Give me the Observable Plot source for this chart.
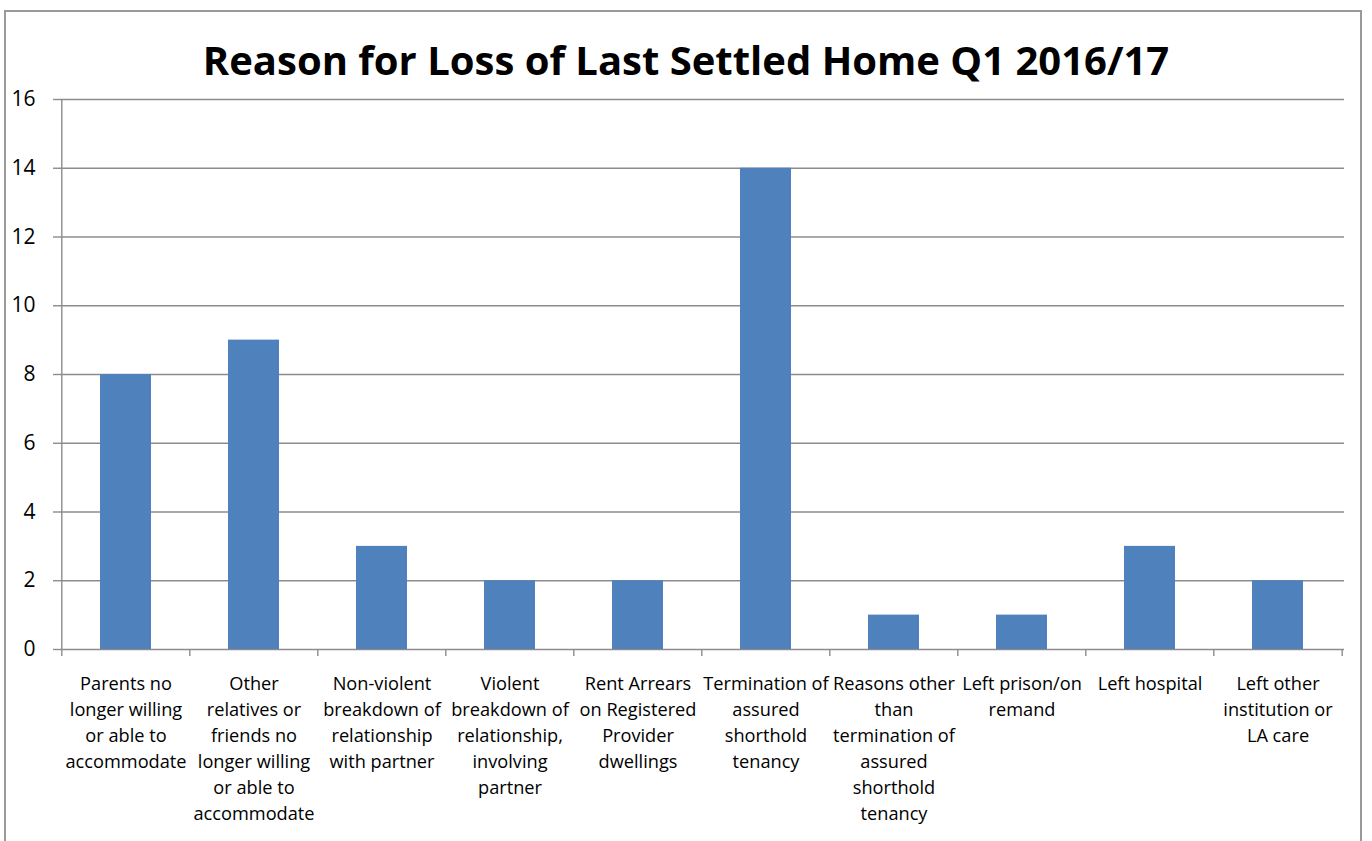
<!DOCTYPE html>
<html>
<head>
<meta charset="utf-8">
<script src="https://cdn.jsdelivr.net/npm/d3@7"></script>
<script src="https://cdn.jsdelivr.net/npm/@observablehq/plot@0.6"></script>
<style>
  html, body { margin: 0; padding: 0; background: #fff; }
  #wrap { position: relative; width: 1372px; height: 841px; overflow: hidden; background: #fff; }
  #frame { position: absolute; left: 4px; top: 10px; width: 1358px; height: 900px; border: 2px solid #9a9a9a; box-sizing: border-box; }
  #title { position: relative; height: 75px; box-sizing: border-box; padding-top: 38px; text-align: center; font-family: "Open Sans", sans-serif; font-weight: bold; font-size: 40px; line-height: 44px; color: #000; white-space: nowrap; }
  #chart { position: relative; }
  #chart svg { display: block; }
</style>
</head>
<body>
<div id="wrap">
  <div id="frame"></div>
  <div id="title">Reason for Loss of Last Settled Home Q1 2016/17</div>
  <div id="chart"></div>
</div>
<script>
const categories = [
  "Parents no longer willing or able to accommodate",
  "Other relatives or friends no longer willing or able to accommodate",
  "Non-violent breakdown of relationship with partner",
  "Violent breakdown of relationship, involving partner",
  "Rent Arrears on Registered Provider dwellings",
  "Termination of assured shorthold tenancy",
  "Reasons other than termination of assured shorthold tenancy",
  "Left prison/on remand",
  "Left hospital",
  "Left other institution or LA care"
];
const tickLabels = [
  "Parents no\nlonger willing\nor able to\naccommodate",
  "Other\nrelatives or\nfriends no\nlonger willing\nor able to\naccommodate",
  "Non-violent\nbreakdown of\nrelationship\nwith partner",
  "Violent\nbreakdown of\nrelationship,\ninvolving\npartner",
  "Rent Arrears\non Registered\nProvider\ndwellings",
  "Termination of\nassured\nshorthold\ntenancy",
  "Reasons other\nthan\ntermination of\nassured\nshorthold\ntenancy",
  "Left prison/on\nremand",
  "Left hospital",
  "Left other\ninstitution or\nLA care"
];
const values = [8, 9, 3, 2, 2, 14, 1, 1, 3, 2];
const yTicks = [0, 2, 4, 6, 8, 10, 12, 14, 16];

const data = categories.map((c, i) => ({category: c, value: values[i], label: tickLabels[i]}));

const W = 1372, H = 766;
const mL = 60, mR = 28, mT = 24, mB = 192;
const step = (W - mL - mR) / categories.length;
const gridColor = "#8c8c8c";
const font = "Open Sans, sans-serif";
const labelSize = 18.2;

const chart = Plot.plot({
  width: W,
  height: H,
  marginLeft: mL,
  marginRight: mR,
  marginTop: mT,
  marginBottom: mB,
  style: {fontFamily: font, color: "#000", background: "transparent"},
  x: {domain: categories, paddingInner: 0.6, paddingOuter: 0.3, axis: null},
  y: {domain: [0, 16], axis: null},
  marks: [
    Plot.ruleY(yTicks, {stroke: gridColor, strokeWidth: 1.4}),
    Plot.axisY({ticks: yTicks, tickSize: 7, tickPadding: 18, fontSize: 21, stroke: gridColor, strokeWidth: 1.4, label: null, tickFormat: d => String(d)}),
    Plot.ruleX(categories, {x: d => d, dx: -step / 2, y1: 0, y2: 16, stroke: gridColor, strokeWidth: 1.4, filter: (d, i) => i === 0}),
    Plot.ruleX(categories, {x: d => d, dx: -step / 2, y1: 0, y2: -0.2, stroke: gridColor, strokeWidth: 1.4}),
    Plot.ruleX(categories, {x: d => d, dx: step / 2, y1: 0, y2: -0.2, stroke: gridColor, strokeWidth: 1.4, filter: (d, i) => i === categories.length - 1}),
    Plot.barY(data, {x: "category", y: "value", fill: "#4F81BD"}),
    Plot.text(data, {x: "category", y: 0, text: "label", lineAnchor: "top", dy: 22, fontSize: labelSize, lineHeight: 26 / labelSize, fill: "#000"})
  ]
});
document.getElementById("chart").appendChild(chart);
</script>
</body>
</html>
